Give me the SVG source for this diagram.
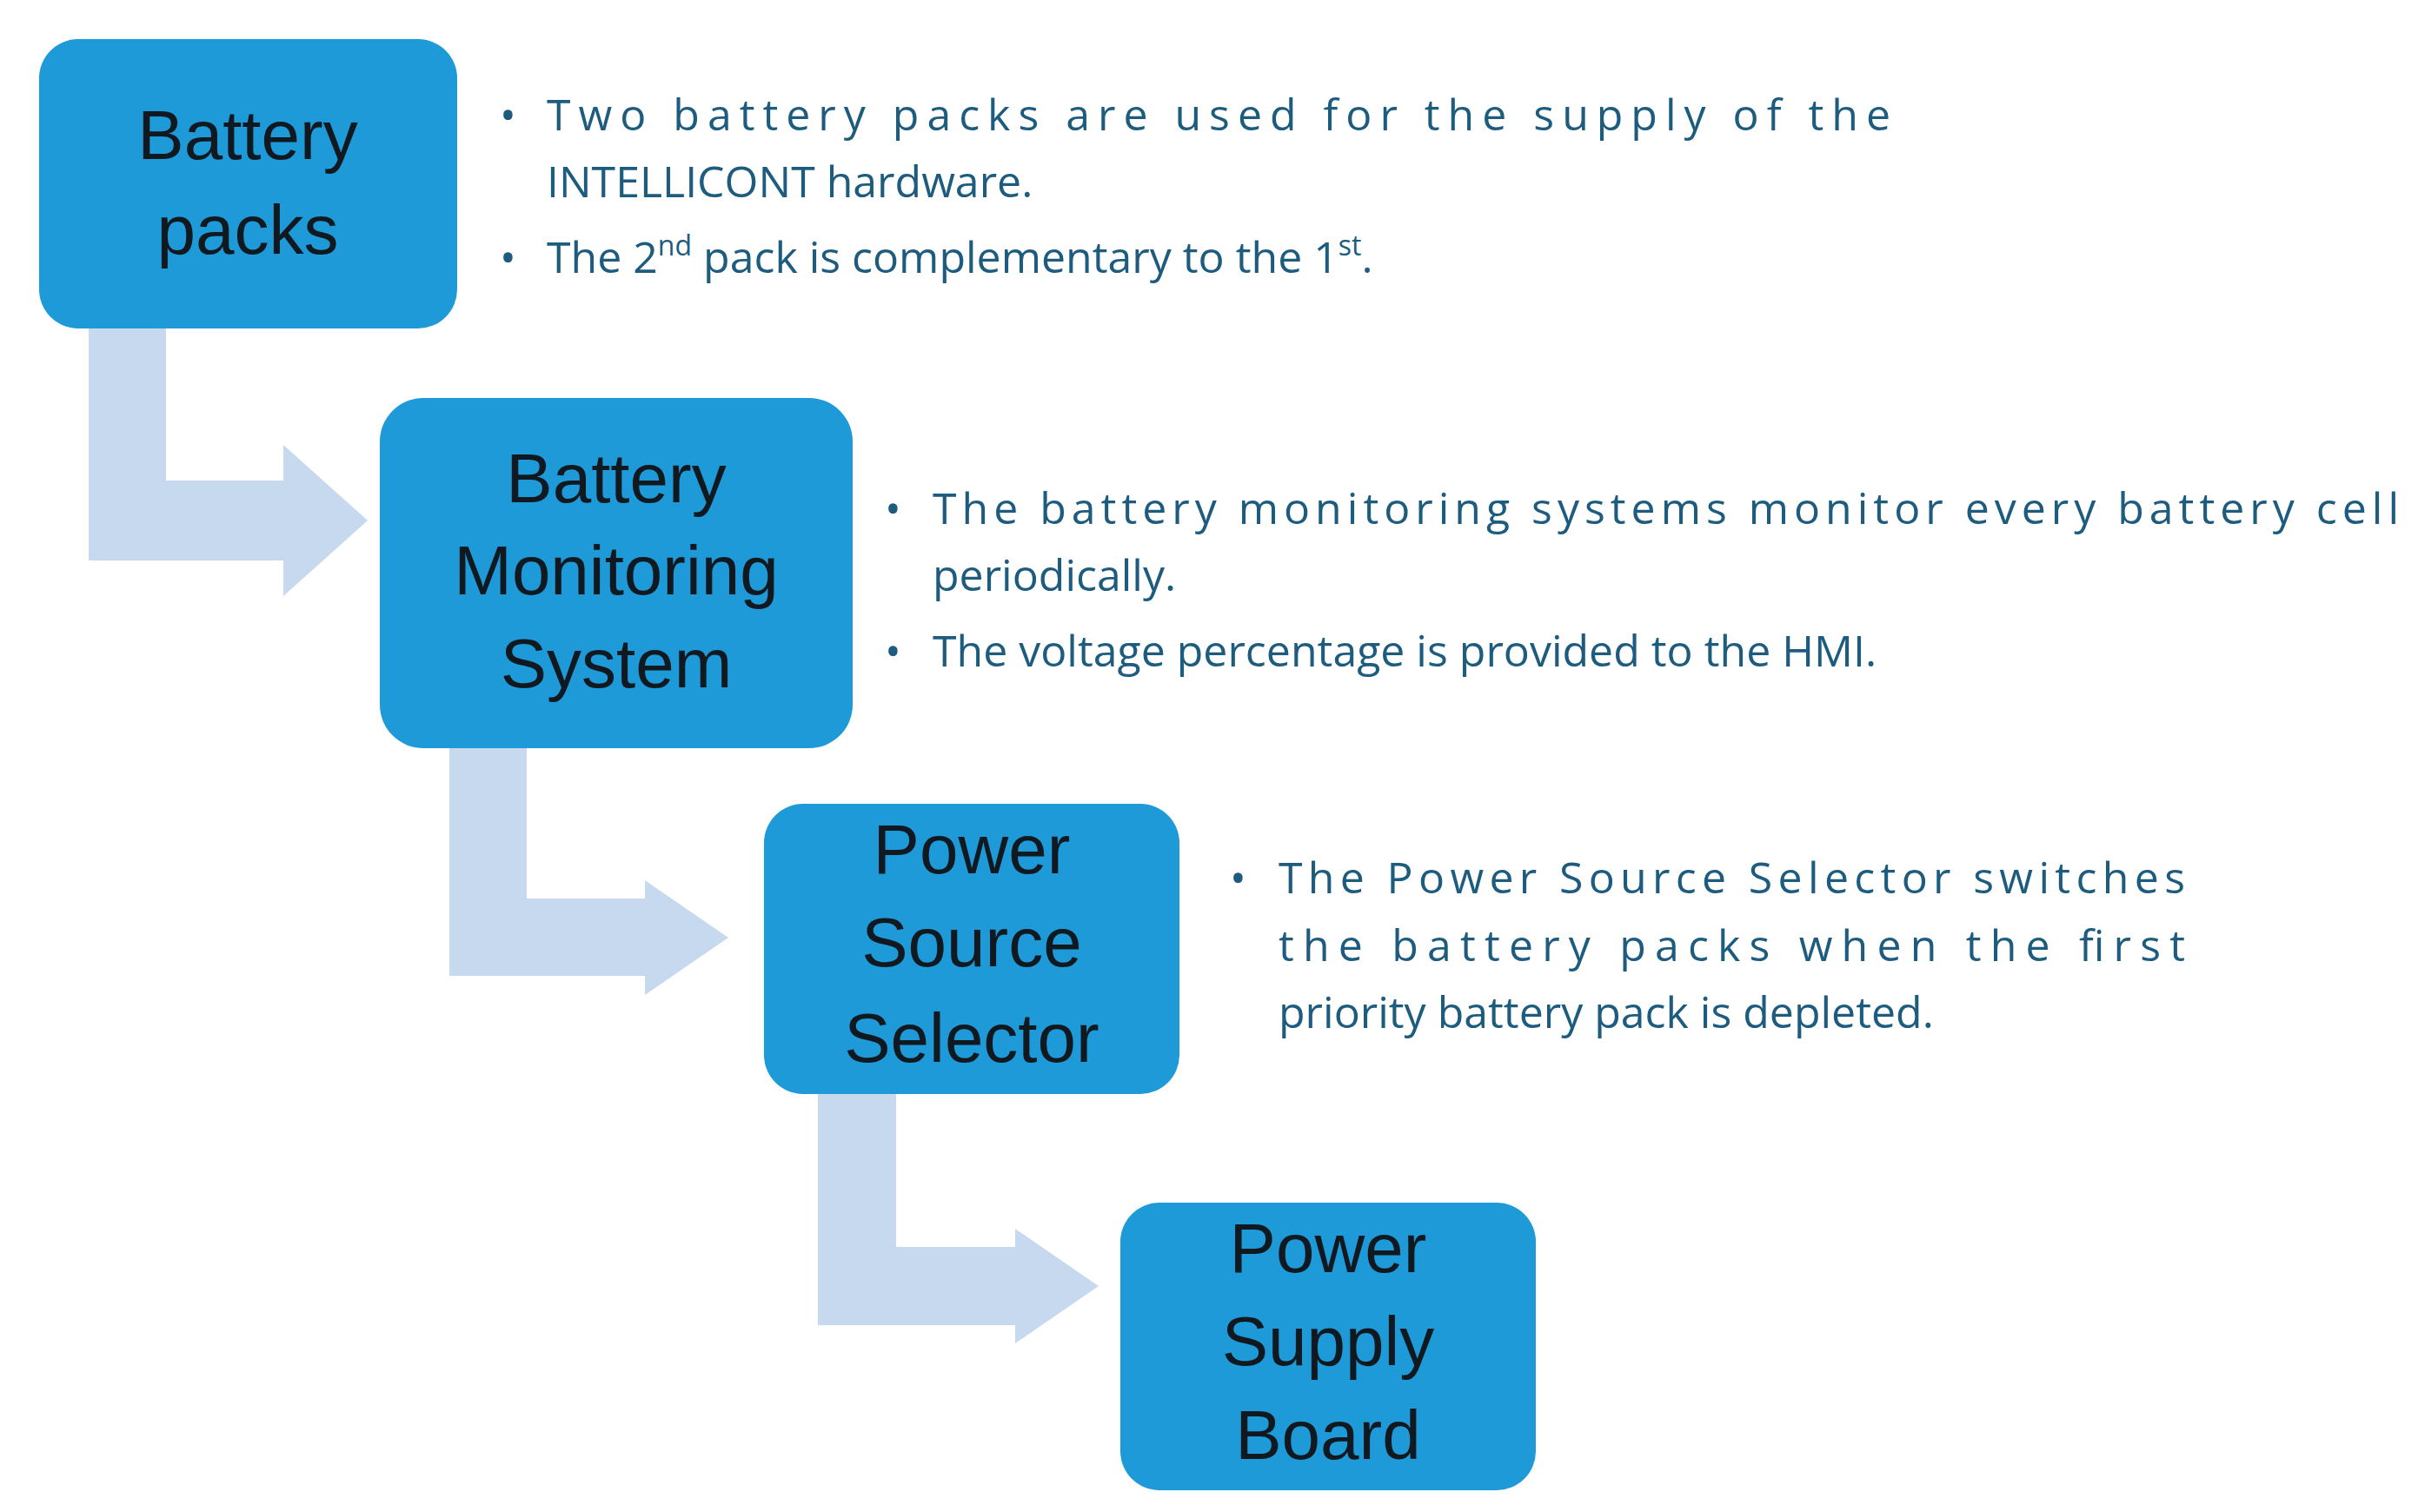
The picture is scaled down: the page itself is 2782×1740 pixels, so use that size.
<svg xmlns="http://www.w3.org/2000/svg" width="2782" height="1740" viewBox="0 0 2782 1740">
<style>
.box{fill:#1f9ad8;}
.bt{font-family:"Liberation Sans",Arial,sans-serif;font-size:80px;fill:#101820;text-anchor:middle;}
.tx{font-family:"Open Sans","Liberation Sans",sans-serif;font-size:50px;fill:#1d5c7e;}
.arr{fill:#c6d9ee;}
</style>
<rect width="2782" height="1740" fill="#fff"/>
<g id="connectors">
<path class="arr" d="M102 378H191V553H326V512L423 599L326 686V645H102Z"/>
<path class="arr" d="M517 861H606V1034H742V1013L838 1079L742 1145V1123H517Z"/>
<path class="arr" d="M941 1259H1031V1435H1168V1414L1264 1480L1168 1546V1525H941Z"/>
</g>
<g id="battery-packs">
<rect class="box" x="45" y="45" width="481" height="333" rx="45"/>
<text class="bt" x="285" y="183">Battery</text>
<text class="bt" x="285" y="292">packs</text>
</g>
<g id="bms">
<rect class="box" x="437" y="458" width="544" height="403" rx="50"/>
<text class="bt" x="709" y="578">Battery</text>
<text class="bt" x="709" y="684">Monitoring</text>
<text class="bt" x="709" y="791">System</text>
</g>
<g id="pss">
<rect class="box" x="879" y="925" width="478" height="334" rx="45"/>
<text class="bt" x="1118" y="1005">Power</text>
<text class="bt" x="1118" y="1112">Source</text>
<text class="bt" x="1118" y="1222">Selector</text>
</g>
<g id="psb">
<rect class="box" x="1289" y="1384" width="478" height="331" rx="45"/>
<text class="bt" x="1528" y="1464">Power</text>
<text class="bt" x="1528" y="1571">Supply</text>
<text class="bt" x="1528" y="1679">Board</text>
</g>
<g id="text1">
<text class="tx" x="575" y="150">•</text>
<text class="tx" x="629" y="150" textLength="1546" lengthAdjust="spacing">Two battery packs are used for the supply of the</text>
<text class="tx" x="629" y="227">INTELLICONT hardware.</text>
<text class="tx" x="575" y="314">•</text>
<text class="tx" x="629" y="314">The 2<tspan font-size="32" dy="-20">nd</tspan><tspan dy="20"> pack is complementary to the 1</tspan><tspan font-size="32" dy="-20">st</tspan><tspan dy="20">.</tspan></text>
</g>
<g id="text2">
<text class="tx" x="1018" y="603">•</text>
<text class="tx" x="1073" y="603" textLength="1687" lengthAdjust="spacing">The battery monitoring systems monitor every battery cell</text>
<text class="tx" x="1073" y="680">periodically.</text>
<text class="tx" x="1018" y="767">•</text>
<text class="tx" x="1073" y="767">The voltage percentage is provided to the HMI.</text>
</g>
<g id="text3">
<text class="tx" x="1415" y="1028">•</text>
<text class="tx" x="1471" y="1028" textLength="1043" lengthAdjust="spacing">The Power Source Selector switches</text>
<text class="tx" x="1471" y="1106" textLength="1043" lengthAdjust="spacing">the battery packs when the first</text>
<text class="tx" x="1471" y="1183">priority battery pack is depleted.</text>
</g>
</svg>
